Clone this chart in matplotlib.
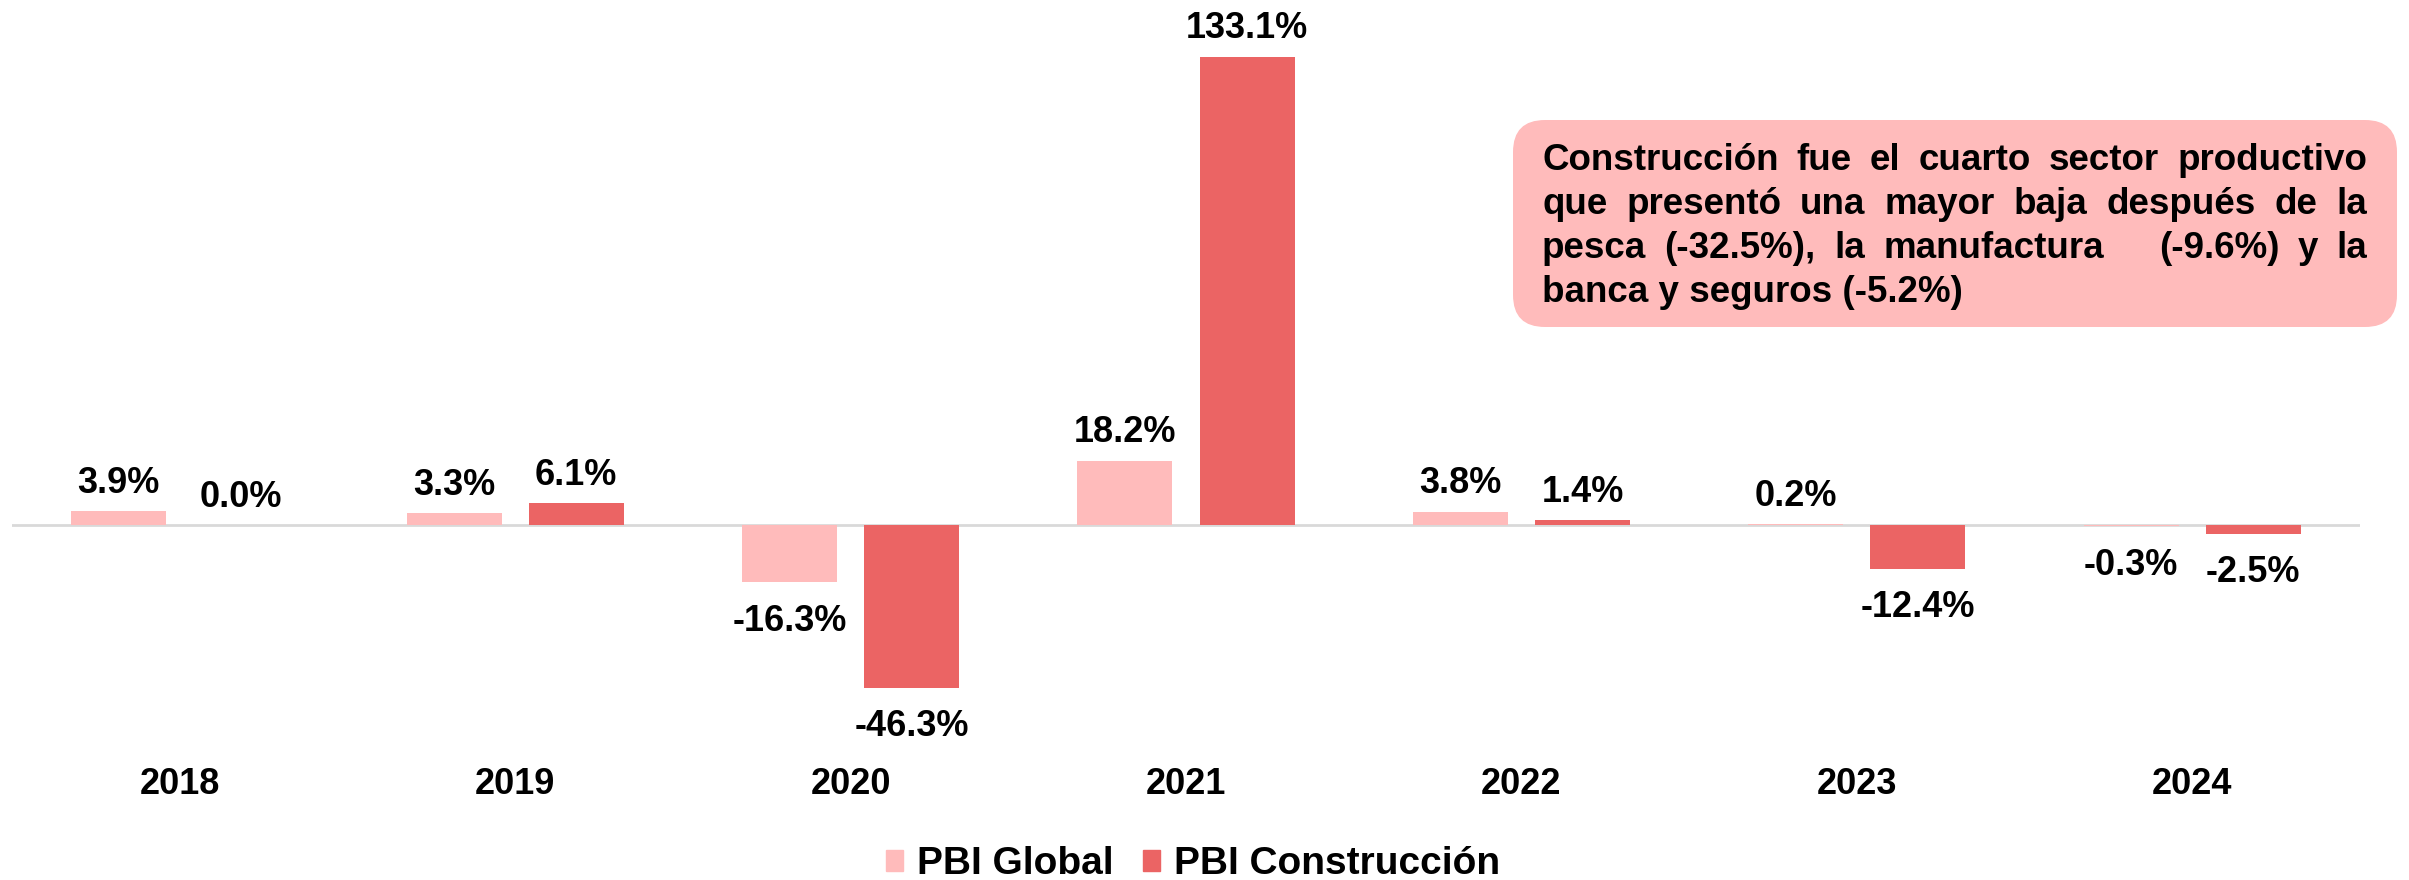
import matplotlib
matplotlib.use("Agg")
import matplotlib.pyplot as plt
import numpy as np
from matplotlib.patches import FancyBboxPatch, Patch

plt.rcParams['font.family'] = ['Liberation Sans', 'DejaVu Sans']
plt.rcParams['font.weight'] = 'bold'

years = ["2018", "2019", "2020", "2021", "2022", "2023", "2024"]
pbi_global = [3.9, 3.3, -16.3, 18.2, 3.8, 0.2, -0.3]
pbi_construccion = [0.0, 6.1, -46.3, 133.1, 1.4, -12.4, -2.5]
series_names = ["PBI Global", "PBI Construcción"]
note_lines = [
    "Construcción fue el cuarto sector productivo",
    "que presentó una mayor baja después de la",
    "pesca (-32.5%), la manufactura   (-9.6%) y la",
    "banca y seguros (-5.2%)",
]

C_GLOBAL = "#FFBBBB"
C_CONS = "#EB6464"
FS_LBL = 26
FS_YEAR = 26
FS_LEG = 28
FS_NOTE = 26.5

W, H = 2409, 880
fig = plt.figure(figsize=(W / 100, H / 100), dpi=100)
ax = fig.add_axes([12 / W, 1 - 760 / H, (2360 - 12) / W, (760 - 40) / H])

x = np.arange(len(years))
off = 0.182
bw = 0.283
b1 = ax.bar(x - off, pbi_global, bw, color=C_GLOBAL, label=series_names[0], zorder=2)
b2 = ax.bar(x + off, pbi_construccion, bw, color=C_CONS, label=series_names[1], zorder=2)

ax.set_xlim(-0.5, 6.5)
ax.set_ylim(-66.8, 137.8)
ax.axhline(0, color="#D9D9D9", lw=2, zorder=1)
for s in ax.spines.values():
    s.set_visible(False)
ax.set_yticks([])
ax.set_xticks(x)
ax.set_xticklabels(years, fontsize=FS_YEAR, fontweight='bold')
ax.tick_params(axis='x', length=0, pad=5)

for bars, vals in ((b1, pbi_global), (b2, pbi_construccion)):
    for rect, v in zip(bars, vals):
        cx = rect.get_x() + rect.get_width() / 2
        if v >= 0:
            ax.annotate(f"{v:.1f}%", (cx, v), xytext=(0, 7.5), textcoords='offset points',
                        ha='center', va='bottom', fontsize=FS_LBL, fontweight='bold')
        else:
            ax.annotate(f"{v:.1f}%", (cx, v), xytext=(0, -15.5), textcoords='offset points',
                        ha='center', va='top', fontsize=FS_LBL, fontweight='bold')

handles = [Patch(color=C_GLOBAL, label=series_names[0]), Patch(color=C_CONS, label=series_names[1])]
fig.legend(handles=handles, loc='center', bbox_to_anchor=(1193 / W, 1 - 864 / H), ncol=2,
           frameon=False, prop={'size': FS_LEG, 'weight': 'bold'},
           handlelength=0.45, handleheight=0.45, handletextpad=0.35, columnspacing=0.75,
           borderpad=0.1)

# overlay in pixel coordinates for the note box
ov = fig.add_axes([0, 0, 1, 1], facecolor='none')
ov.set_xlim(0, W)
ov.set_ylim(H, 0)
ov.axis('off')
box = FancyBboxPatch((1513, 120), 2397 - 1513, 327 - 120,
                     boxstyle="round,pad=0,rounding_size=32",
                     facecolor="#FFBBBB", edgecolor="none")
ov.add_patch(box)

fig.canvas.draw()
renderer = fig.canvas.get_renderer()
left, right = 1542, 2367
line_y = [160, 204, 248, 292]
for i, (line, ly) in enumerate(zip(note_lines, line_y)):
    tokens = line.split(' ')
    if i == len(note_lines) - 1:
        ov.text(left, ly, line, ha='left', va='center', fontsize=FS_NOTE, fontweight='bold')
        continue
    widths = []
    for t in tokens:
        if t == "":
            widths.append(0.0)
            continue
        tt = ov.text(0, 0, t, fontsize=FS_NOTE, fontweight='bold')
        bb = tt.get_window_extent(renderer)
        widths.append(bb.width)
        tt.remove()
    gaps = len(tokens) - 1
    gap = (right - left - sum(widths)) / gaps
    xpos = left
    for t, w in zip(tokens, widths):
        if t:
            ov.text(xpos, ly, t, ha='left', va='center', fontsize=FS_NOTE, fontweight='bold')
        xpos += w + gap

fig.savefig("out.png", dpi=100)
